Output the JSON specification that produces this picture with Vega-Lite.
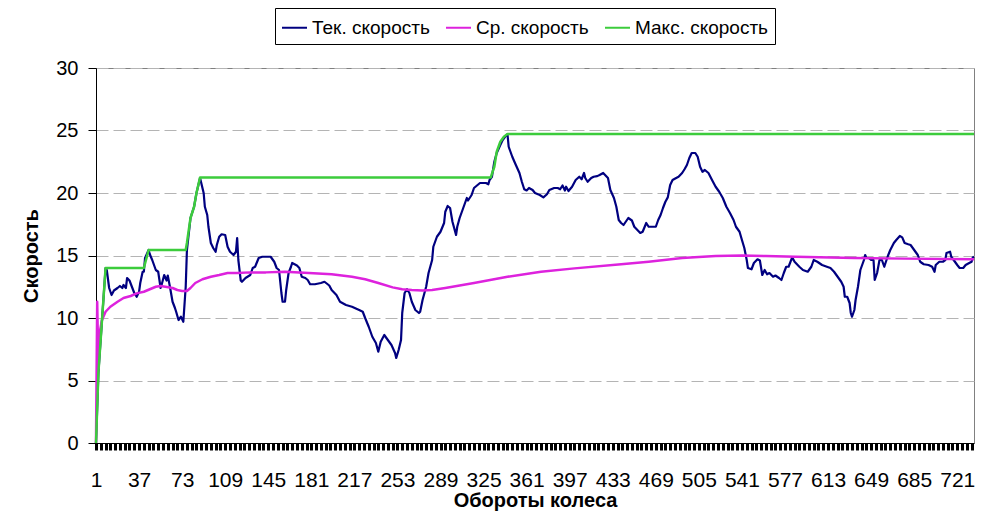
{
"$schema": "https://vega.github.io/schema/vega-lite/v6.json",
"width": 878, "height": 375,
"autosize": {"type": "none"},
"padding": {"left": 96, "top": 68, "right": 28, "bottom": 82},
"background": "white",
"config": {"view": {"stroke": "#808080", "strokeWidth": 1}, "font": "Liberation Sans"},
"datasets": {
"tek": [{"c":1,"v":0},{"c":3,"v":5.6},{"c":9,"v":14.0},{"c":10,"v":13.84},{"c":12,"v":12.4},{"c":14,"v":11.84},{"c":16,"v":12.2},{"c":19,"v":12.4},{"c":21,"v":12.56},{"c":23,"v":12.4},{"c":24,"v":12.64},{"c":26,"v":12.4},{"c":27,"v":13.2},{"c":29,"v":13.0},{"c":31,"v":12.5},{"c":33,"v":12.0},{"c":35,"v":11.7},{"c":37,"v":12.1},{"c":38,"v":12.8},{"c":40,"v":13.7},{"c":41,"v":13.7},{"c":42,"v":14.8},{"c":45,"v":15.44},{"c":46,"v":15.1},{"c":48,"v":14.64},{"c":51,"v":13.84},{"c":53,"v":13.7},{"c":55,"v":12.4},{"c":56,"v":12.7},{"c":58,"v":13.44},{"c":60,"v":13.0},{"c":61,"v":13.4},{"c":63,"v":12.4},{"c":65,"v":11.3},{"c":67,"v":10.8},{"c":68,"v":10.5},{"c":70,"v":9.84},{"c":72,"v":10.1},{"c":74,"v":9.7},{"c":76,"v":12.5},{"c":77,"v":15.4},{"c":80,"v":18.0},{"c":83,"v":18.9},{"c":85,"v":20.0},{"c":88,"v":21.2},{"c":91,"v":20.0},{"c":92,"v":18.9},{"c":94,"v":18.24},{"c":95,"v":17.3},{"c":97,"v":16.0},{"c":99,"v":15.6},{"c":101,"v":15.3},{"c":102,"v":15.84},{"c":104,"v":16.5},{"c":106,"v":16.7},{"c":109,"v":16.64},{"c":111,"v":15.7},{"c":113,"v":15.3},{"c":116,"v":15.04},{"c":118,"v":15.3},{"c":119,"v":16.4},{"c":120,"v":14.64},{"c":122,"v":13.0},{"c":123,"v":12.9},{"c":126,"v":13.2},{"c":130,"v":13.44},{"c":132,"v":14.0},{"c":134,"v":14.1},{"c":137,"v":14.8},{"c":140,"v":14.9},{"c":143,"v":14.9},{"c":147,"v":14.9},{"c":150,"v":14.5},{"c":152,"v":14.0},{"c":154,"v":13.84},{"c":156,"v":12.0},{"c":157,"v":11.3},{"c":159,"v":11.3},{"c":160,"v":12.24},{"c":162,"v":13.6},{"c":164,"v":14.1},{"c":165,"v":14.4},{"c":167,"v":14.3},{"c":169,"v":14.2},{"c":171,"v":14.0},{"c":173,"v":13.3},{"c":176,"v":13.2},{"c":178,"v":13.04},{"c":180,"v":12.7},{"c":184,"v":12.7},{"c":189,"v":12.8},{"c":192,"v":12.9},{"c":196,"v":12.6},{"c":198,"v":12.24},{"c":202,"v":11.84},{"c":205,"v":11.3},{"c":210,"v":11.04},{"c":215,"v":10.9},{"c":221,"v":10.64},{"c":224,"v":10.5},{"c":226,"v":10.0},{"c":229,"v":9.3},{"c":232,"v":8.5},{"c":235,"v":8.0},{"c":237,"v":7.3},{"c":239,"v":8.1},{"c":242,"v":8.64},{"c":245,"v":8.24},{"c":248,"v":7.84},{"c":251,"v":7.2},{"c":252,"v":6.8},{"c":254,"v":7.44},{"c":256,"v":8.24},{"c":257,"v":10.4},{"c":259,"v":12.0},{"c":261,"v":12.3},{"c":263,"v":12.0},{"c":265,"v":11.3},{"c":268,"v":10.64},{"c":271,"v":10.4},{"c":272,"v":10.5},{"c":274,"v":11.44},{"c":277,"v":12.5},{"c":279,"v":13.6},{"c":282,"v":14.64},{"c":283,"v":15.7},{"c":286,"v":16.5},{"c":289,"v":16.9},{"c":292,"v":17.6},{"c":293,"v":18.5},{"c":295,"v":18.96},{"c":297,"v":18.8},{"c":299,"v":17.7},{"c":302,"v":16.64},{"c":303,"v":17.3},{"c":305,"v":18.0},{"c":308,"v":18.8},{"c":311,"v":19.6},{"c":312,"v":19.4},{"c":315,"v":19.84},{"c":317,"v":20.4},{"c":320,"v":20.64},{"c":322,"v":20.8},{"c":327,"v":20.8},{"c":329,"v":20.7},{"c":330,"v":21.04},{"c":332,"v":21.3},{"c":334,"v":22.5},{"c":336,"v":23.2},{"c":339,"v":23.84},{"c":341,"v":24.24},{"c":343,"v":24.5},{"c":345,"v":24.7},{"c":346,"v":23.7},{"c":349,"v":22.9},{"c":352,"v":22.24},{"c":355,"v":21.6},{"c":357,"v":20.9},{"c":359,"v":20.3},{"c":361,"v":20.2},{"c":363,"v":20.4},{"c":366,"v":20.24},{"c":368,"v":20.0},{"c":372,"v":19.84},{"c":375,"v":19.65},{"c":378,"v":19.9},{"c":380,"v":20.24},{"c":384,"v":20.4},{"c":387,"v":20.4},{"c":389,"v":20.3},{"c":391,"v":20.6},{"c":393,"v":20.2},{"c":394,"v":20.5},{"c":396,"v":20.16},{"c":399,"v":20.5},{"c":402,"v":21.04},{"c":405,"v":21.3},{"c":407,"v":21.1},{"c":409,"v":21.6},{"c":410,"v":21.2},{"c":412,"v":20.9},{"c":415,"v":21.2},{"c":417,"v":21.3},{"c":420,"v":21.35},{"c":422,"v":21.44},{"c":425,"v":21.6},{"c":427,"v":21.4},{"c":429,"v":21.2},{"c":431,"v":20.24},{"c":434,"v":19.6},{"c":436,"v":18.9},{"c":438,"v":17.84},{"c":440,"v":17.6},{"c":442,"v":17.44},{"c":446,"v":18.0},{"c":449,"v":17.8},{"c":451,"v":17.3},{"c":453,"v":17.1},{"c":456,"v":16.8},{"c":458,"v":16.9},{"c":461,"v":17.6},{"c":463,"v":17.3},{"c":466,"v":17.3},{"c":469,"v":17.3},{"c":471,"v":17.84},{"c":473,"v":18.24},{"c":475,"v":18.8},{"c":477,"v":19.3},{"c":479,"v":19.65},{"c":481,"v":20.64},{"c":483,"v":21.04},{"c":486,"v":21.2},{"c":488,"v":21.3},{"c":491,"v":21.6},{"c":493,"v":21.9},{"c":495,"v":22.24},{"c":497,"v":22.8},{"c":499,"v":23.2},{"c":502,"v":23.2},{"c":504,"v":22.9},{"c":506,"v":22.1},{"c":508,"v":21.7},{"c":510,"v":21.84},{"c":513,"v":21.6},{"c":516,"v":21.04},{"c":519,"v":20.5},{"c":522,"v":20.1},{"c":525,"v":19.6},{"c":528,"v":18.9},{"c":531,"v":18.4},{"c":534,"v":17.84},{"c":536,"v":17.3},{"c":539,"v":16.9},{"c":541,"v":16.24},{"c":543,"v":15.6},{"c":545,"v":14.64},{"c":546,"v":14.0},{"c":549,"v":13.9},{"c":551,"v":14.4},{"c":554,"v":14.7},{"c":556,"v":14.6},{"c":558,"v":13.44},{"c":560,"v":13.84},{"c":562,"v":13.5},{"c":564,"v":13.6},{"c":567,"v":13.3},{"c":569,"v":13.4},{"c":572,"v":13.2},{"c":574,"v":13.04},{"c":576,"v":13.6},{"c":578,"v":14.1},{"c":580,"v":14.1},{"c":583,"v":14.85},{"c":585,"v":14.5},{"c":589,"v":14.1},{"c":592,"v":13.84},{"c":596,"v":13.7},{"c":599,"v":14.1},{"c":601,"v":14.64},{"c":604,"v":14.5},{"c":608,"v":14.24},{"c":612,"v":14.1},{"c":615,"v":14.0},{"c":618,"v":13.7},{"c":621,"v":13.3},{"c":624,"v":12.9},{"c":626,"v":12.5},{"c":627,"v":11.7},{"c":629,"v":11.7},{"c":631,"v":11.2},{"c":632,"v":10.4},{"c":633,"v":10.1},{"c":635,"v":10.64},{"c":636,"v":11.44},{"c":638,"v":12.5},{"c":640,"v":13.84},{"c":643,"v":14.64},{"c":644,"v":15.04},{"c":645,"v":14.8},{"c":647,"v":14.8},{"c":649,"v":14.64},{"c":651,"v":14.64},{"c":652,"v":13.04},{"c":654,"v":13.6},{"c":656,"v":14.64},{"c":658,"v":14.64},{"c":660,"v":14.1},{"c":661,"v":14.4},{"c":663,"v":14.96},{"c":665,"v":15.44},{"c":668,"v":16.0},{"c":670,"v":16.24},{"c":673,"v":16.56},{"c":675,"v":16.45},{"c":677,"v":16.0},{"c":680,"v":15.9},{"c":682,"v":15.84},{"c":685,"v":15.44},{"c":688,"v":15.04},{"c":690,"v":14.5},{"c":693,"v":14.3},{"c":697,"v":14.24},{"c":700,"v":14.1},{"c":702,"v":13.7},{"c":703,"v":14.24},{"c":706,"v":14.5},{"c":709,"v":14.5},{"c":711,"v":14.64},{"c":712,"v":15.2},{"c":715,"v":15.3},{"c":716,"v":14.9},{"c":718,"v":14.64},{"c":721,"v":14.24},{"c":723,"v":14.0},{"c":726,"v":14.0},{"c":728,"v":14.24},{"c":731,"v":14.4},{"c":733,"v":14.5},{"c":734,"v":14.85},{"c":735,"v":14.9}],
"avg": [{"c":1,"v":0},{"c":2,"v":11.3},{"c":3,"v":6.0},{"c":4,"v":8.8},{"c":6,"v":9.84},{"c":9,"v":10.5},{"c":13,"v":10.9},{"c":19,"v":11.3},{"c":24,"v":11.6},{"c":30,"v":11.76},{"c":35,"v":11.97},{"c":41,"v":12.1},{"c":46,"v":12.3},{"c":51,"v":12.5},{"c":55,"v":12.56},{"c":59,"v":12.5},{"c":65,"v":12.4},{"c":69,"v":12.24},{"c":73,"v":12.16},{"c":77,"v":12.16},{"c":80,"v":12.4},{"c":84,"v":12.8},{"c":90,"v":13.1},{"c":97,"v":13.3},{"c":104,"v":13.44},{"c":111,"v":13.6},{"c":119,"v":13.6},{"c":130,"v":13.65},{"c":143,"v":13.65},{"c":159,"v":13.7},{"c":179,"v":13.6},{"c":198,"v":13.5},{"c":215,"v":13.3},{"c":226,"v":13.1},{"c":237,"v":12.8},{"c":249,"v":12.45},{"c":257,"v":12.3},{"c":265,"v":12.24},{"c":274,"v":12.2},{"c":282,"v":12.24},{"c":293,"v":12.4},{"c":317,"v":12.8},{"c":345,"v":13.3},{"c":373,"v":13.7},{"c":401,"v":13.97},{"c":440,"v":14.3},{"c":463,"v":14.5},{"c":491,"v":14.8},{"c":519,"v":14.96},{"c":541,"v":15.0},{"c":561,"v":14.96},{"c":586,"v":14.9},{"c":635,"v":14.8},{"c":677,"v":14.75},{"c":735,"v":14.7}],
"max": [{"c":1,"v":0},{"c":3,"v":5.6},{"c":9,"v":14.0},{"c":41,"v":14.0},{"c":45,"v":15.44},{"c":76,"v":15.44},{"c":77,"v":16.0},{"c":80,"v":18.0},{"c":83,"v":18.9},{"c":85,"v":20.0},{"c":88,"v":21.25},{"c":331,"v":21.25},{"c":334,"v":22.1},{"c":336,"v":23.3},{"c":339,"v":24.1},{"c":342,"v":24.5},{"c":345,"v":24.72},{"c":735,"v":24.72}]
},
"encoding": {
"x": {"field": "c", "type": "quantitative", "scale": {"domain": [1, 735], "nice": false, "zero": false},
 "axis": {"title": "Обороты колеса", "titleFont": "Liberation Sans", "titleFontSize": 20, "titleFontWeight": "bold", "titleColor": "black", "titlePadding": 0,
  "values": [1,5,9,13,17,21,25,29,33,37,41,45,49,53,57,61,65,69,73,77,81,85,89,93,97,101,105,109,113,117,121,125,129,133,137,141,145,149,153,157,161,165,169,173,177,181,185,189,193,197,201,205,209,213,217,221,225,229,233,237,241,245,249,253,257,261,265,269,273,277,281,285,289,293,297,301,305,309,313,317,321,325,329,333,337,341,345,349,353,357,361,365,369,373,377,381,385,389,393,397,401,405,409,413,417,421,425,429,433,437,441,445,449,453,457,461,465,469,473,477,481,485,489,493,497,501,505,509,513,517,521,525,529,533,537,541,545,549,553,557,561,565,569,573,577,581,585,589,593,597,601,605,609,613,617,621,625,629,633,637,641,645,649,653,657,661,665,669,673,677,681,685,689,693,697,701,705,709,713,717,721,725,729,733],
  "labelExpr": "(datum.value - 1) % 36 === 0 ? datum.label : ''", "labelOverlap": false, "labelFlush": false, "labelBound": false,
  "labelFont": "Liberation Sans", "labelFontSize": 21, "labelColor": "black", "labelPadding": 19,
  "tickSize": 7, "tickWidth": 3, "tickColor": "black", "domainColor": "black", "domainWidth": 1, "grid": false}},
"y": {"field": "v", "type": "quantitative", "scale": {"domain": [0, 30], "nice": false},
 "axis": {"title": "Скорость", "titleFont": "Liberation Sans", "titleFontSize": 20, "titleFontWeight": "bold", "titleColor": "black", "titlePadding": 14,
  "values": [0,5,10,15,20,25,30], "labelFont": "Liberation Sans", "labelFontSize": 20, "labelColor": "black", "labelPadding": 10,
  "tickSize": 8, "tickColor": "black", "domainColor": "black", "grid": true, "gridColor": "#b4b4b4", "gridDash": [12, 5]}}
},
"layer": [
{"data": {"name": "tek"}, "mark": {"type": "line", "strokeWidth": 2.2, "strokeJoin": "round"},
 "encoding": {"color": {"datum": "Тек. скорость", "type": "nominal",
  "scale": {"domain": ["Тек. скорость", "Ср. скорость", "Макс. скорость"], "range": ["#000080", "#dd22dd", "#3ccc3c"]},
  "legend": {"title": null, "orient": "none", "legendX": 179, "legendY": -60, "direction": "horizontal", "symbolType": "stroke", "symbolSize": 625, "symbolStrokeWidth": 2, "labelFont": "Liberation Sans", "labelFontSize": 19, "labelColor": "black", "strokeColor": "black", "fillColor": "white", "padding": 6, "columnPadding": 12, "labelOffset": 4}}}},
{"data": {"name": "avg"}, "mark": {"type": "line", "strokeWidth": 2.5, "strokeJoin": "round"},
 "encoding": {"color": {"datum": "Ср. скорость", "type": "nominal"}}},
{"data": {"name": "max"}, "mark": {"type": "line", "strokeWidth": 2.5, "strokeJoin": "round"},
 "encoding": {"color": {"datum": "Макс. скорость", "type": "nominal"}}}
]
}
